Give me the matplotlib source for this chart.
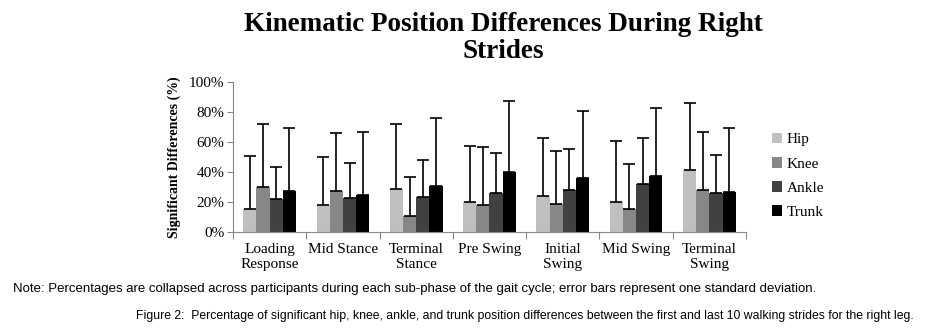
import matplotlib
matplotlib.use("Agg")
import matplotlib.pyplot as plt
import numpy as np

categories = ["Loading\nResponse", "Mid Stance", "Terminal\nStance", "Pre Swing",
              "Initial\nSwing", "Mid Swing", "Terminal\nSwing"]
series_names = ["Hip", "Knee", "Ankle", "Trunk"]
hip = [15.6, 18.1, 28.6, 19.9, 23.9, 20.3, 41.5]
knee = [29.9, 27.5, 10.9, 18.1, 19.0, 15.6, 28.3]
ankle = [21.9, 23.0, 23.4, 26.1, 27.9, 31.7, 25.7]
trunk = [27.2, 24.8, 30.4, 39.7, 36.2, 37.3, 26.6]
hip_sd = [35.3, 32.1, 43.3, 37.7, 39.0, 40.2, 44.2]
knee_sd = [42.0, 38.3, 25.9, 38.8, 34.8, 29.9, 38.2]
ankle_sd = [21.6, 23.2, 24.4, 26.4, 27.7, 31.2, 25.9]
trunk_sd = [42.4, 42.2, 45.9, 47.4, 44.2, 45.1, 43.0]
colors = ["#bfbfbf", "#878787", "#414141", "#000000"]

values = [hip, knee, ankle, trunk]
sds = [hip_sd, knee_sd, ankle_sd, trunk_sd]

fig = plt.figure(figsize=(9.32, 3.31), dpi=100)
ax = fig.add_axes([233/932, 1-232/331, 513/932, 150/331])

serif = "Liberation Serif"
x = np.arange(len(categories))
w = 0.18
for i, (vals, sd, c, name) in enumerate(zip(values, sds, colors, series_names)):
    pos = x + (i - 1.5) * w
    ax.bar(pos, vals, width=w, color=c, label=name, zorder=2)
    ax.errorbar(pos, vals, yerr=[np.zeros(len(sd)), sd], fmt="none",
                ecolor="black", elinewidth=1.2, capsize=4, capthick=1.2, zorder=3)

ax.set_xlim(-0.5, len(categories) - 0.5)
ax.set_ylim(0, 100)
ax.set_yticks(np.arange(0, 101, 20))
ax.set_yticklabels([f"{v}%" for v in range(0, 101, 20)], fontfamily=serif, fontsize=11)
ax.set_xticks(np.arange(-0.5, len(categories), 1.0))
ax.set_xticklabels([])
ax.set_xticks(x, minor=True)
ax.set_xticklabels(categories, minor=True, fontfamily=serif, fontsize=11, linespacing=1.2)
ax.tick_params(axis="x", which="minor", length=0, pad=8)
ax.tick_params(axis="x", which="major", length=5, color="#888888", direction="out")
ax.tick_params(axis="y", length=4, color="#888888", direction="out", pad=2)
for s in ["top", "right"]:
    ax.spines[s].set_visible(False)
ax.spines["left"].set_color("#888888")
ax.spines["bottom"].set_color("#888888")

ax.set_ylabel("Significant Differences (%)", fontfamily=serif, fontweight="bold", fontsize=10, labelpad=6)

fig.text(0.54, 1-38/331, "Kinematic Position Differences During Right\nStrides", ha="center", va="center",
         fontfamily=serif, fontweight="bold", fontsize=19.5, linespacing=1.1)

leg = ax.legend(loc="upper left", bbox_to_anchor=(758/932, 1-119/331), bbox_transform=fig.transFigure,
                frameon=False, prop={"family": serif, "size": 11}, handlelength=0.7, handleheight=0.7,
                handletextpad=0.3, labelspacing=0.68)

fig.text(13/932, 1-289/331, "Note: Percentages are collapsed across participants during each sub-phase of the gait cycle; error bars represent one standard deviation.",
         ha="left", va="center", fontfamily="Liberation Sans", fontsize=9.5)
fig.text(136/932, 1-316/331, "Figure 2:  Percentage of significant hip, knee, ankle, and trunk position differences between the first and last 10 walking strides for the right leg.",
         ha="left", va="center", fontfamily="Liberation Sans", fontsize=8.8)

fig.savefig("out.png", dpi=100)
